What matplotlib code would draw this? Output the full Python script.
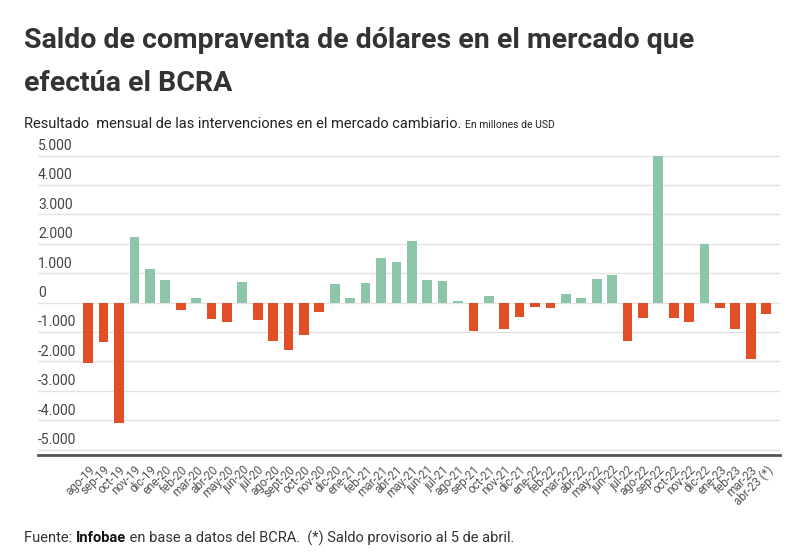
import matplotlib.pyplot as plt

plt.rcParams['font.family'] = ['Roboto', 'DejaVu Sans']

meses = ['ago-19', 'sep-19', 'oct-19', 'nov-19', 'dic-19', 'ene-20', 'feb-20', 'mar-20',
         'abr-20', 'may-20', 'jun-20', 'jul-20', 'ago-20', 'sept-20', 'oct-20', 'nov-20',
         'dic-20', 'ene-21', 'feb-21', 'mar-21', 'abr-21', 'may-21', 'jun-21', 'jul-21',
         'ago-21', 'sep-21', 'oct-21', 'nov-21', 'dic-21', 'ene-22', 'feb-22', 'mar-22',
         'abr-22', 'may-22', 'jun-22', 'jul-22', 'ago-22', 'sep-22', 'oct-22', 'nov-22',
         'dic-22', 'ene-23', 'feb-23', 'mar-23', 'abr-23 (*)']
saldo = [-2040, -1330, -4100, 2220, 1150, 780, -250, 170,
         -540, -670, 690, -580, -1290, -1620, -1100, -310,
         620, 170, 660, 1510, 1380, 2100, 760, 730,
         60, -980, 240, -900, -480, -160, -190, 310,
         170, 790, 950, -1290, -510, 4990, -510, -670,
         2010, -190, -900, -1920, -400]
yticks = [5000, 4000, 3000, 2000, 1000, 0, -1000, -2000, -3000, -4000, -5000]

VERDE = '#8dc5a8'
ROJO = '#e24e26'

fig = plt.figure(figsize=(8, 5.58), dpi=100)
ax = fig.add_axes([0.0475, 0.1846, 0.9275, 0.5466])

x = list(range(len(saldo)))
colores = [VERDE if v >= 0 else ROJO for v in saldo]
ax.bar(x, saldo, width=0.63, color=colores, zorder=3)

ax.set_xlim(-3.26, 44.9)
ax.set_ylim(-5180, 5190)
ax.set_yticks(yticks)
for y in yticks:
    ax.axhline(y, color='#e3e3e3', lw=1, zorder=1)

# etiquetas del eje y sobre las líneas
ax.set_yticklabels([])
ax.tick_params(axis='y', length=0)
for y in yticks:
    ax.text(0, y + 90, f'{y:,}'.replace(',', '.'), transform=ax.get_yaxis_transform(),
            ha='left', va='bottom', fontsize=10, color='#444444')

ax.set_xticks(x)
ax.set_xticklabels(meses, rotation=45, ha='right', rotation_mode='anchor',
                   fontsize=8.5, color='#555555')
ax.tick_params(axis='x', length=0, pad=6)

for s in ['top', 'right', 'left']:
    ax.spines[s].set_visible(False)
ax.spines['bottom'].set_color('#555555')
ax.spines['bottom'].set_linewidth(2)

fig.text(0.03, 0.914, 'Saldo de compraventa de dólares en el mercado que',
         fontsize=20.5, fontweight='bold', color='#333333', va='baseline')
fig.text(0.03, 0.837, 'efectúa el BCRA',
         fontsize=20.5, fontweight='bold', color='#333333', va='baseline')

t = fig.text(0.03, 0.77, 'Resultado  mensual de las intervenciones en el mercado cambiario.',
             fontsize=10.5, color='#222222', va='baseline')
fig.canvas.draw()
bb = t.get_window_extent()
fig.text(bb.x1 / 800 + 0.005, 0.77, 'En millones de USD', fontsize=7.5,
         color='#222222', va='baseline')

f1 = fig.text(0.03, 0.028, 'Fuente: ', fontsize=10.5, color='#333333', va='baseline')
fig.canvas.draw()
x1 = f1.get_window_extent().x1 / 800
f2 = fig.text(x1, 0.028, 'Infobae', fontsize=10.5, color='#111111',
              fontweight='bold', va='baseline')
fig.canvas.draw()
x2 = f2.get_window_extent().x1 / 800
fig.text(x2, 0.028, ' en base a datos del BCRA.  (*) Saldo provisorio al 5 de abril.',
         fontsize=10.5, color='#333333', va='baseline')

fig.savefig('out.png', dpi=100)
